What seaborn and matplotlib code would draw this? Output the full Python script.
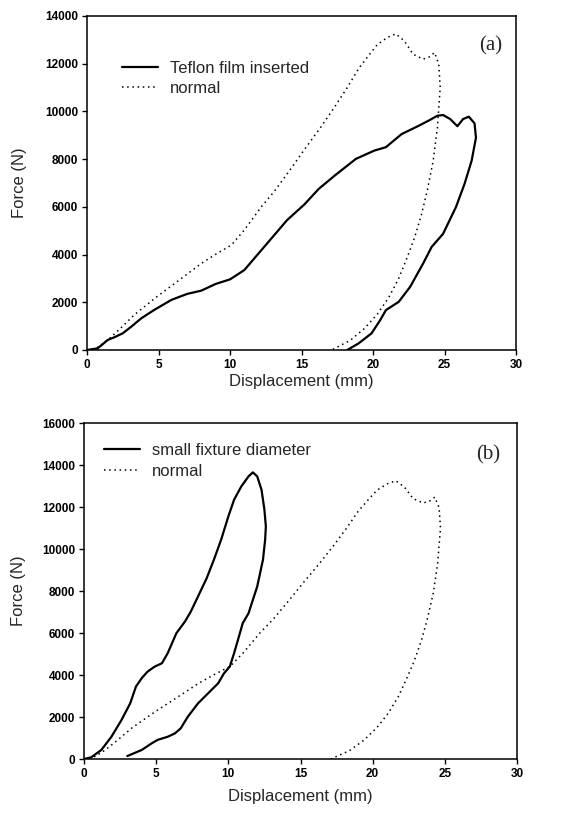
import numpy as np
import pandas as pd
import matplotlib
matplotlib.use("Agg")
import matplotlib.pyplot as plt
import seaborn as sns

# ---- data ----
# "normal" curve (same specimen in both panels): displacement (mm), force (N)
normal_x = [0.0, 0.6, 1.2, 1.7, 2.5, 3.3, 4.9, 6.6, 8.0, 9.1, 10.1, 11.0, 12.2, 13.1,
            14.2, 15.2, 16.3, 17.3, 18.2, 19.0, 19.7, 20.3, 21.0, 21.6, 22.2, 22.8,
            23.5, 24.0, 24.3, 24.6, 24.7, 24.5, 24.2, 23.8, 23.4, 22.9, 22.4, 21.8,
            21.1, 20.3, 19.4, 18.4, 17.1]
normal_y = [0, 60, 300, 550, 1000, 1470, 2240, 3000, 3630, 4050, 4400, 5030, 6010, 6650,
            7550, 8400, 9300, 10170, 11000, 11800, 12350, 12800, 13100, 13250, 12950, 12400,
            12190, 12300, 12470, 11980, 11000, 9300, 7900, 6700, 5700, 4700, 3900, 3000,
            2200, 1500, 900, 400, 0]

# (a) Teflon film inserted
teflon_x = [0.0, 0.75, 1.45, 1.9, 2.5, 3.1, 3.8, 4.7, 5.9, 7.0, 8.0, 9.0, 10.0, 11.0,
            12.0, 13.0, 14.0, 15.2, 16.2, 17.3, 18.8, 20.1, 20.9, 22.0, 23.2, 24.0,
            24.5, 24.9, 25.4, 25.9, 26.3, 26.7, 27.1, 27.2, 26.9, 26.4, 25.8, 24.9, 24.1,
            23.5, 22.6, 21.8, 20.9, 20.5, 19.9, 19.0, 18.2]
teflon_y = [0, 70, 420, 530, 700, 980, 1330, 1680, 2100, 2350, 2490, 2770, 2960, 3350,
            4050, 4750, 5450, 6100, 6750, 7300, 8010, 8360, 8500, 9050, 9400, 9650,
            9820, 9850, 9680, 9380, 9680, 9780, 9500, 8900, 7940, 6960, 5990, 4870, 4320,
            3620, 2650, 2020, 1670, 1250, 700, 280, 0]

# (b) small fixture diameter
small_x = [0.0, 0.5, 1.2, 1.9, 2.6, 3.2, 3.6, 4.0, 4.4, 4.9, 5.4, 5.8, 6.4, 7.0, 7.4,
           7.9, 8.5, 9.0, 9.5, 10.0, 10.4, 10.9, 11.4, 11.7, 12.0, 12.3, 12.5, 12.6,
           12.55, 12.4, 12.0, 11.7, 11.4, 11.0, 10.8, 10.4, 10.1, 9.7, 9.3, 8.6, 7.9,
           7.2, 6.7, 6.3, 5.8, 5.1, 4.7, 4.0, 3.0]
small_y = [0, 80, 430, 1060, 1860, 2650, 3450, 3850, 4160, 4400, 4560, 5040, 5990, 6550,
           7020, 7740, 8610, 9490, 10440, 11550, 12350, 12980, 13460, 13650, 13460, 12820,
           11870, 11070, 10440, 9490, 8210, 7580, 6940, 6470, 5990, 5040, 4400, 4080,
           3610, 3130, 2650, 2020, 1460, 1220, 1060, 910, 750, 430, 140]

x_ticks = [0, 5, 10, 15, 20, 25, 30]
y_ticks_a = [0, 2000, 4000, 6000, 8000, 10000, 12000, 14000]
y_ticks_b = [0, 2000, 4000, 6000, 8000, 10000, 12000, 14000, 16000]

# ---- style ----
sns.set_style("ticks")
plt.rcParams["font.family"] = ["Liberation Sans", "DejaVu Sans"]

W, H = 576, 814
fig = plt.figure(figsize=(W / 100, H / 100), dpi=100)

def frac_axes(l, t, r, b):
    return fig.add_axes([l / W, 1 - b / H, (r - l) / W, (b - t) / H])

ax1 = frac_axes(87, 16, 516, 350)
ax2 = frac_axes(84, 423, 517, 759)

def make_df(x, y):
    return pd.DataFrame({"x": x, "y": y})

def draw(ax, sx, sy, slabel, yt, tag, tagpos):
    sns.lineplot(data=make_df(sx, sy), x="x", y="y", sort=False, estimator=None,
                 ax=ax, color="black", lw=1.6, label=slabel)
    sns.lineplot(data=make_df(normal_x, normal_y), x="x", y="y", sort=False,
                 estimator=None, ax=ax, color="black", lw=1.1,
                 linestyle=(0, (1, 2.4)), label="normal")
    ax.set_xlim(0, 30)
    ax.set_ylim(yt[0], yt[-1])
    ax.set_xticks(x_ticks)
    ax.set_yticks(yt)
    ax.set_xticklabels([str(v) for v in x_ticks])
    ax.set_yticklabels([str(v) for v in yt])
    for lab in ax.get_xticklabels() + ax.get_yticklabels():
        lab.set_fontweight("bold")
        lab.set_fontsize(8.5)
    ax.tick_params(direction="out", length=3.5, width=1, pad=3, colors="black")
    for sp in ax.spines.values():
        sp.set_visible(True)
        sp.set_linewidth(1.1)
        sp.set_color("black")
    ax.set_xlabel("Displacement (mm)", fontsize=12)
    ax.set_ylabel("Force (N)", fontsize=12)
    ax.text(tagpos[0], tagpos[1], tag, transform=ax.transAxes, ha="center",
            va="center", fontsize=15, family=["Liberation Serif", "DejaVu Serif"])

draw(ax1, teflon_x, teflon_y, "Teflon film inserted", y_ticks_a, "(a)", (0.942, 0.912))
draw(ax2, small_x, small_y, "small fixture diameter", y_ticks_b, "(b)", (0.933, 0.905))

ax1.xaxis.set_label_coords(0.5, -0.072)
ax2.xaxis.set_label_coords(0.5, -0.088)
ax1.yaxis.set_label_coords(-0.14, 0.5)
ax2.yaxis.set_label_coords(-0.133, 0.5)

ax1.legend(loc="upper left", bbox_to_anchor=(0.065, 0.885), frameon=False,
           fontsize=12, handlelength=2.2, handletextpad=0.7, labelspacing=0.3,
           borderaxespad=0)
ax2.legend(loc="upper left", bbox_to_anchor=(0.03, 0.96), frameon=False,
           fontsize=12, handlelength=2.2, handletextpad=0.7, labelspacing=0.35,
           borderaxespad=0)

fig.savefig("out.png", dpi=100)
